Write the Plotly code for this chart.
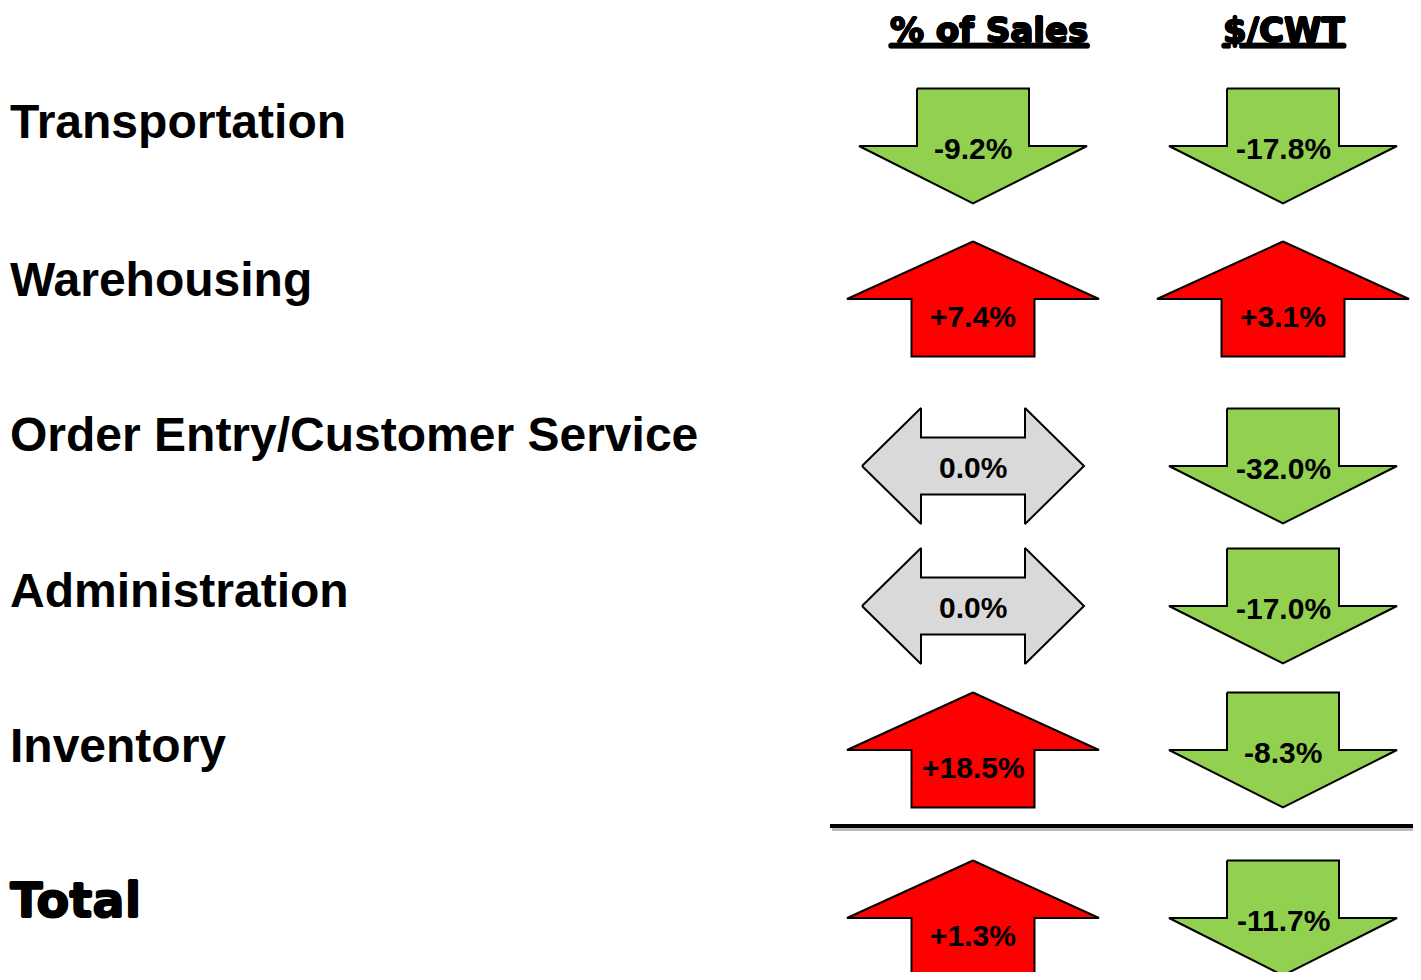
import plotly.graph_objects as go

# ---- data ----
categories = ["Transportation", "Warehousing", "Order Entry/Customer Service",
              "Administration", "Inventory", "Total"]
pct_of_sales = [-9.2, 7.4, 0.0, 0.0, 18.5, 1.3]
per_cwt = [-17.8, 3.1, -32.0, -17.0, -8.3, -11.7]
column_titles = ["% of Sales", "$/CWT"]

# ---- layout constants (screen-pixel space) ----
W, H = 1421, 980
PAGE_MARGIN = 8  # default body margin of the html page
row_centers = [146, 299, 466, 606, 750, 918]
label_y = [121, 279, 434, 590, 745, 900]
col_centers = [973, 1283]
GREEN, RED, GREY = "#92D050", "#FF0000", "#D9D9D9"


def arrow_shape(cx, cy, v):
    if v < 0:  # down arrow
        hw, bw, h = 114, 56, 115
        top, base, tip = cy - h / 2, cy, cy + h / 2
        xs = [cx - bw, cx + bw, cx + bw, cx + hw, cx, cx - hw, cx - bw, cx - bw]
        ys = [top, top, base, base, tip, base, base, top]
        return xs, ys, GREEN, cy + 2
    if v > 0:  # up arrow
        hw, bw, h = 126, 61.5, 115
        tip, base, bot = cy - h / 2, cy, cy + h / 2
        xs = [cx, cx + hw, cx + bw, cx + bw, cx - bw, cx - bw, cx - hw, cx]
        ys = [tip, base, base, bot, bot, base, base, tip]
        return xs, ys, RED, cy + 17
    # double horizontal arrow
    hw, hh, bh, head = 111, 58, 28.5, 59
    xs = [cx - hw, cx - hw + head, cx - hw + head, cx + hw - head, cx + hw - head,
          cx + hw, cx + hw - head, cx + hw - head, cx - hw + head, cx - hw + head, cx - hw]
    ys = [cy, cy - hh, cy - bh, cy - bh, cy - hh, cy, cy + hh, cy + bh, cy + bh, cy + hh, cy]
    return xs, ys, GREY, cy + 1


def fmt(v):
    if v > 0:
        return f"+{v:.1f}%"
    if v < 0:
        return f"{v:.1f}%"
    return f"{abs(v):.1f}%"


HEAVY = "0.8px 0 0 black, -0.8px 0 0 black, 0 0.6px 0 black, 0 -0.6px 0 black"

fig = go.Figure()
annotations = []

for ci, series in enumerate([pct_of_sales, per_cwt]):
    for ri, v in enumerate(series):
        xs, ys, color, ty = arrow_shape(col_centers[ci], row_centers[ri], v)
        fig.add_trace(go.Scatter(x=xs, y=ys, mode="lines", fill="toself",
                                 fillcolor=color, line=dict(color="black", width=2),
                                 hoverinfo="skip", showlegend=False))
        annotations.append(dict(x=col_centers[ci], y=ty, text=fmt(v), showarrow=False,
                                xanchor="center", yanchor="middle",
                                font=dict(family="Liberation Sans, Arial", size=30,
                                          color="black", weight="bold")))

for ri, cat in enumerate(categories):
    is_total = cat == "Total"
    font = dict(family=("DejaVu Sans" if is_total else "Liberation Sans, Arial"),
                size=48, color="black", weight="bold")
    if is_total:
        font["shadow"] = HEAVY
    annotations.append(dict(x=0, xref="paper", y=label_y[ri], text=cat, showarrow=False,
                            xanchor="left", yanchor="middle", font=font))

header_x = [989, 1284]
for ci, t in enumerate(column_titles):
    annotations.append(dict(x=header_x[ci], y=1, yref="paper", text=t,
                            showarrow=False, xanchor="center", yanchor="top",
                            font=dict(family="DejaVu Sans", size=34, color="black",
                                      weight="bold", lineposition="under",
                                      shadow=HEAVY)))

shapes = [
    dict(type="line", x0=832, x1=W, y0=829.5, y1=829.5, line=dict(color="#BBBBBB", width=3)),
    dict(type="line", x0=830, x1=W, y0=826, y1=826, line=dict(color="black", width=4)),
]

fig.update_layout(
    width=W - 2 * PAGE_MARGIN, height=H - 2 * PAGE_MARGIN,
    margin=dict(l=0, r=0, t=0, b=0),
    paper_bgcolor="white", plot_bgcolor="white",
    xaxis=dict(range=[PAGE_MARGIN, W - PAGE_MARGIN], visible=False, fixedrange=True),
    yaxis=dict(range=[H - PAGE_MARGIN, PAGE_MARGIN], visible=False, fixedrange=True),
    annotations=annotations, shapes=shapes,
)

fig.write_html("out.html")
